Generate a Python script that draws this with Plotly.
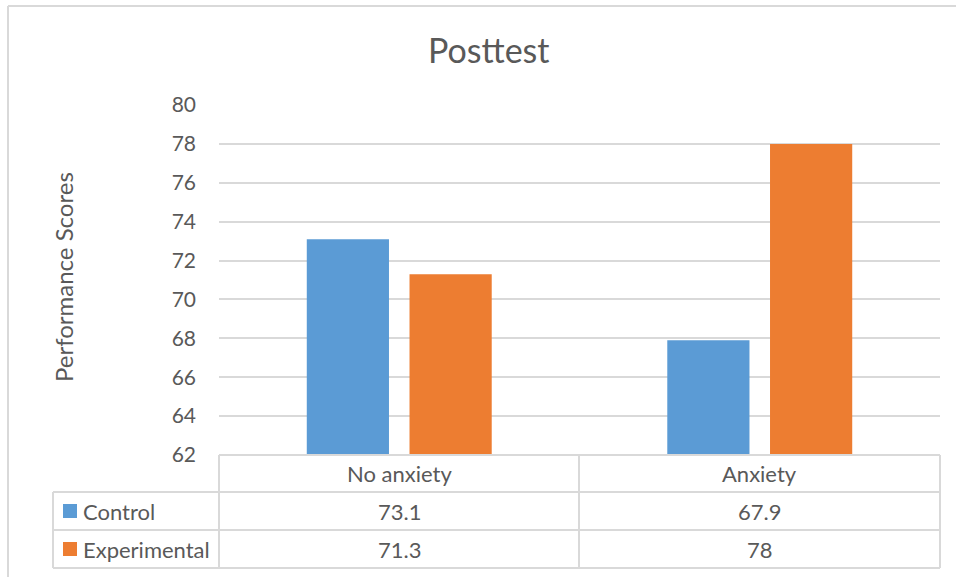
import plotly.graph_objects as go

# Data
categories = ["No anxiety", "Anxiety"]
series_names = ["Control", "Experimental"]
control = [73.1, 67.9]
experimental = [71.3, 78]
series_values = [control, experimental]
value_labels = [["73.1", "67.9"], ["71.3", "78"]]
colors = ["#5B9BD5", "#ED7D31"]
y_ticks = [62, 64, 66, 68, 70, 72, 74, 76, 78, 80]

W, H = 956, 577
L, R, T, B = 219, 940, 105, 455  # plot area in pixels
TXT = "#595959"
GRID = "#D9D9D9"
FONT = "Lato"


def px(x):
    return (x - L) / (R - L)


def py(y):
    return (B - y) / (B - T)


fig = go.Figure()
for name, vals, col in zip(series_names, series_values, colors):
    fig.add_trace(go.Bar(x=categories, y=vals, name=name, marker_color=col,
                         marker_line_width=0, showlegend=False))

shapes = []
line = dict(color=GRID, width=2)
# outer chart frame
shapes.append(dict(type="line", xref="paper", yref="paper", x0=px(8), x1=px(W + 5),
                   y0=py(6), y1=py(6), line=line))
shapes.append(dict(type="line", xref="paper", yref="paper", x0=px(8), x1=px(8),
                   y0=py(6), y1=py(H + 5), line=line))
# data table grid
row_y = [455, 492, 530, 568]
for i, yy in enumerate(row_y):
    x0 = L if i == 0 else 53
    shapes.append(dict(type="line", xref="paper", yref="paper", x0=px(x0), x1=px(R),
                       y0=py(yy), y1=py(yy), line=line))
for xx in [L, 579, R]:
    shapes.append(dict(type="line", xref="paper", yref="paper", x0=px(xx), x1=px(xx),
                       y0=py(455), y1=py(568), line=line))
shapes.append(dict(type="line", xref="paper", yref="paper", x0=px(53), x1=px(53),
                   y0=py(492), y1=py(568), line=line))

annotations = []
row_centers = [511, 549]
for name, col, labels, yc in zip(series_names, colors, value_labels, row_centers):
    shapes.append(dict(type="rect", xref="paper", yref="paper", x0=px(63), x1=px(77),
                       y0=py(yc - 7), y1=py(yc + 7), fillcolor=col, line_width=0))
    annotations.append(dict(text=name, xref="paper", yref="paper", x=px(81), y=py(yc),
                            xanchor="left", yanchor="middle", showarrow=False,
                            font=dict(size=22, color=TXT, family=FONT)))
    for cat, lab in zip(categories, labels):
        annotations.append(dict(text=lab, xref="x", yref="paper", x=cat, y=py(yc),
                                xanchor="center", yanchor="middle", showarrow=False,
                                font=dict(size=22, color=TXT, family=FONT)))
for cat in categories:
    annotations.append(dict(text=cat, xref="x", yref="paper", x=cat, y=py(473.5),
                            xanchor="center", yanchor="middle", showarrow=False,
                            font=dict(size=22, color=TXT, family=FONT)))
annotations.append(dict(text="Performance Scores", xref="paper", yref="paper",
                        x=px(63), y=py(277), textangle=-90, xanchor="center",
                        yanchor="middle", showarrow=False,
                        font=dict(size=24, color=TXT, family=FONT)))
annotations.append(dict(text="Posttest", xref="paper", yref="paper",
                        x=px(489), y=py(50), xanchor="center", yanchor="middle",
                        showarrow=False, font=dict(size=34, color=TXT, family=FONT)))

fig.update_layout(
    width=W, height=H,
    margin=dict(l=L, r=W - R, t=T, b=H - B),
    paper_bgcolor="white", plot_bgcolor="white",
    barmode="group", bargap=0.43, bargroupgap=0.2,
    shapes=shapes, annotations=annotations,
    font=dict(family=FONT, color=TXT),
)
fig.update_xaxes(showticklabels=False, showgrid=False, zeroline=False, showline=False,
                 range=[-0.5, 1.5])
fig.update_yaxes(range=[62, 80], tickvals=y_ticks, showgrid=True, gridcolor=GRID,
                 gridwidth=2, zeroline=False, showline=False, ticks="",
                 tickfont=dict(size=21, color=TXT, family=FONT), ticklabelstandoff=22)

fig.write_html("out.html")
